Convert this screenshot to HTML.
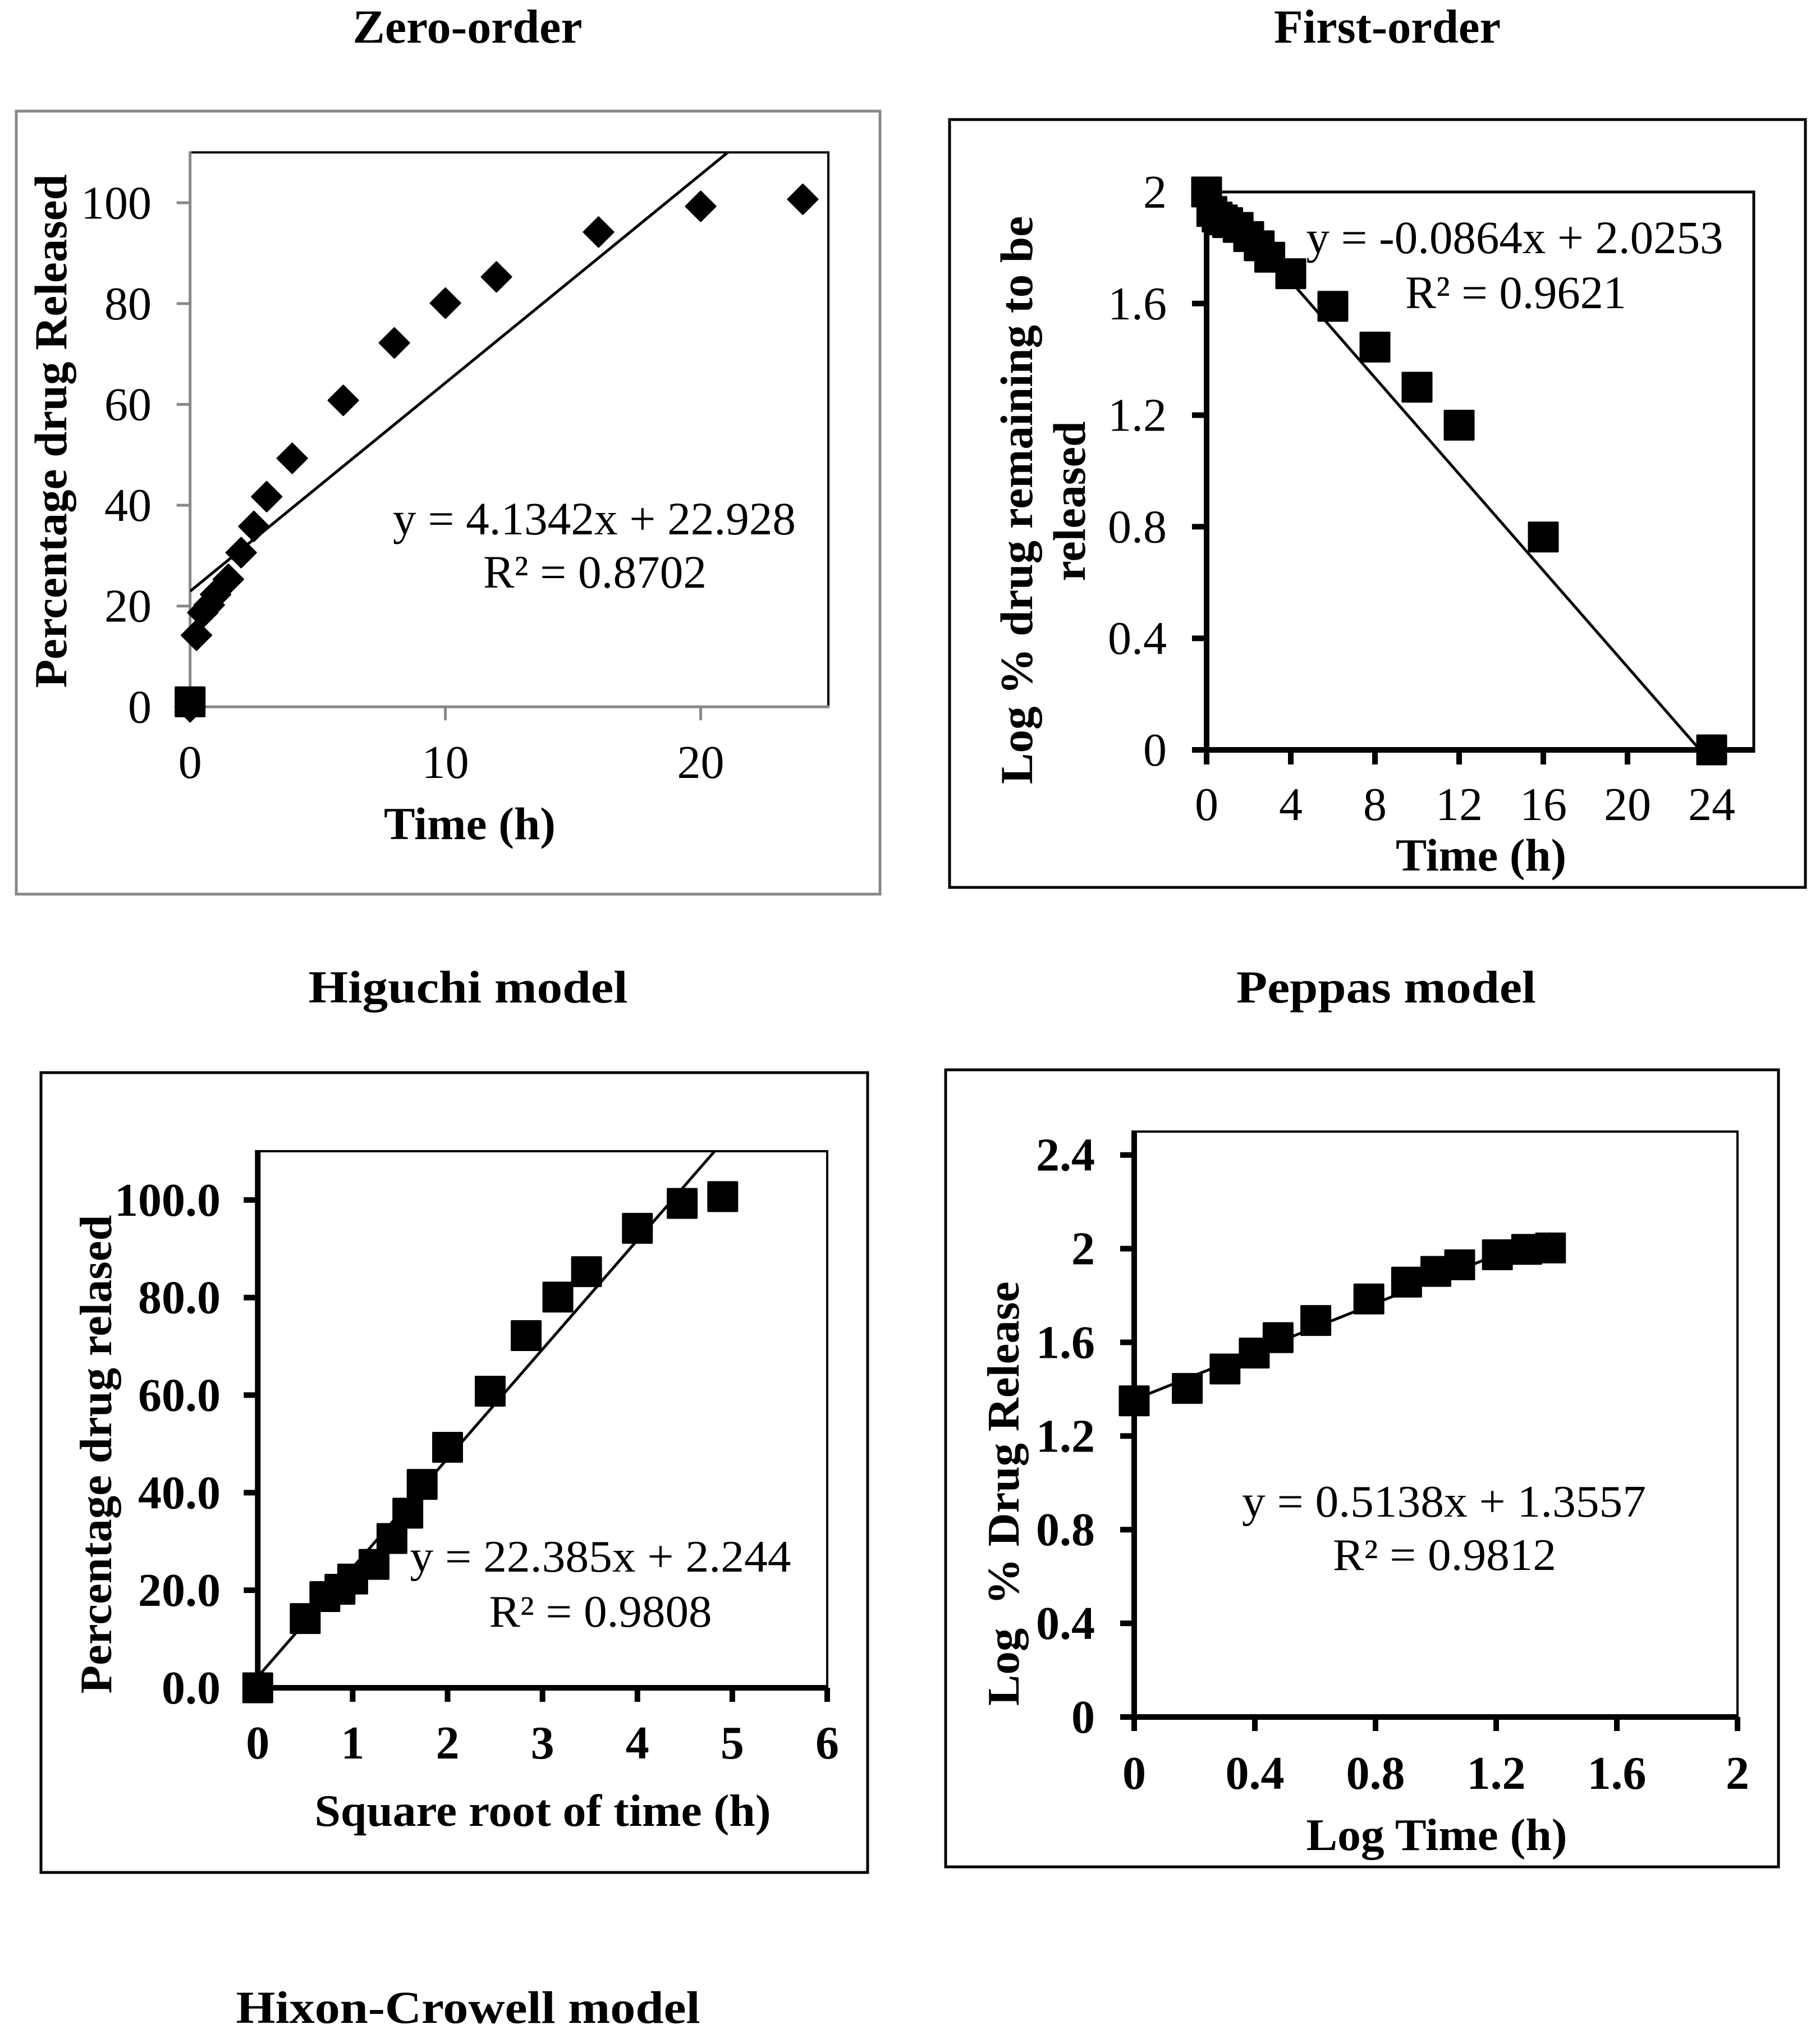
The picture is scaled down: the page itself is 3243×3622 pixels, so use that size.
<!DOCTYPE html>
<html lang="en">
<head>
<meta charset="utf-8">
<title>Drug release kinetics models</title>
<style>
html,body{margin:0;padding:0;background:#fff;}
svg{display:block;}
text{font-family:"Liberation Serif",serif;fill:#000;}
.b{font-weight:bold;}
</style>
</head>
<body>
<svg id="figure" xmlns="http://www.w3.org/2000/svg" width="3243" height="3622" viewBox="0 0 3243 3622">
<rect x="0" y="0" width="3243" height="3622" fill="#fff"/>

<text class="b" x="833" y="76" font-size="85" text-anchor="middle" textLength="409" lengthAdjust="spacingAndGlyphs">Zero-order</text>
<text class="b" x="2472" y="76" font-size="85" text-anchor="middle" textLength="404" lengthAdjust="spacingAndGlyphs">First-order</text>
<text class="b" x="834" y="1786" font-size="82" text-anchor="middle" textLength="569" lengthAdjust="spacingAndGlyphs">Higuchi model</text>
<text class="b" x="2470" y="1786" font-size="82" text-anchor="middle" textLength="534" lengthAdjust="spacingAndGlyphs">Peppas model</text>
<text class="b" x="834" y="3604" font-size="82" text-anchor="middle" textLength="827" lengthAdjust="spacingAndGlyphs">Hixon-Crowell model</text>

<g id="zero">
<rect x="29" y="198" width="1539" height="1395" fill="#fff" stroke="#888" stroke-width="5"/>
</g>
<text class="b" transform="translate(118,768) rotate(-90)" font-size="82" text-anchor="middle" textLength="915" lengthAdjust="spacingAndGlyphs">Percentage drug Released</text>
<text class="b" x="837" y="1495" font-size="82" text-anchor="middle" textLength="306" lengthAdjust="spacingAndGlyphs">Time (h)</text>
<text x="1059" y="952" font-size="83" text-anchor="middle" textLength="718" lengthAdjust="spacingAndGlyphs">y = 4.1342x + 22.928</text>
<text x="1060" y="1047" font-size="83" text-anchor="middle" textLength="398" lengthAdjust="spacingAndGlyphs">R² = 0.8702</text>

<g id="first">
<rect x="1692" y="213" width="1525" height="1368" fill="#fff" stroke="#000" stroke-width="5"/>
</g>
<text class="b" transform="translate(1839,891) rotate(-90)" font-size="82" text-anchor="middle" textLength="1012" lengthAdjust="spacingAndGlyphs">Log % drug remaining to be</text>
<text class="b" transform="translate(1933,893) rotate(-90)" font-size="82" text-anchor="middle" textLength="285" lengthAdjust="spacingAndGlyphs">released</text>
<text class="b" x="2639" y="1551" font-size="82" text-anchor="middle" textLength="304" lengthAdjust="spacingAndGlyphs">Time (h)</text>
<text x="2699" y="451" font-size="83" text-anchor="middle" textLength="743" lengthAdjust="spacingAndGlyphs">y = -0.0864x + 2.0253</text>
<text x="2701" y="549" font-size="83" text-anchor="middle" textLength="394" lengthAdjust="spacingAndGlyphs">R² = 0.9621</text>

<g id="higuchi">
<rect x="73" y="1911" width="1473" height="1425" fill="#fff" stroke="#000" stroke-width="5"/>
</g>
<text class="b" transform="translate(198,2591) rotate(-90)" font-size="80" text-anchor="middle" textLength="853" lengthAdjust="spacingAndGlyphs">Percentage drug relased</text>
<text class="b" x="967" y="3253" font-size="80" text-anchor="middle" textLength="813" lengthAdjust="spacingAndGlyphs">Square root of time (h)</text>
<text x="1070" y="2800" font-size="80" text-anchor="middle" textLength="679" lengthAdjust="spacingAndGlyphs">y = 22.385x + 2.244</text>
<text x="1070" y="2898" font-size="80" text-anchor="middle" textLength="397" lengthAdjust="spacingAndGlyphs">R² = 0.9808</text>

<g id="peppas">
<rect x="1685" y="1906" width="1484" height="1420" fill="#fff" stroke="#000" stroke-width="5"/>
</g>
<text class="b" transform="translate(1815,2661) rotate(-90)" font-size="80" text-anchor="middle" textLength="756" lengthAdjust="spacingAndGlyphs" xml:space="preserve">Log  % Drug Release</text>
<text class="b" x="2560" y="3296" font-size="80" text-anchor="middle" textLength="465" lengthAdjust="spacingAndGlyphs">Log Time (h)</text>
<text x="2573" y="2702" font-size="80" text-anchor="middle" textLength="720" lengthAdjust="spacingAndGlyphs">y = 0.5138x + 1.3557</text>
<text x="2574" y="2797" font-size="80" text-anchor="middle" textLength="398" lengthAdjust="spacingAndGlyphs">R² = 0.9812</text>
</svg>

<script>
var SVG_NS = 'http://www.w3.org/2000/svg';

// Zero-order data
var zeroTime = [0, 0.25, 0.5, 0.75, 1, 1.5, 2, 2.5, 3, 4, 6, 8, 10, 12, 16, 20, 24];
var zeroRelease = [0, 14.2, 18.7, 20.2, 22.3, 25.3, 30.6, 35.8, 41.7, 49.3, 60.8, 72.2, 80.1, 85.3, 94.2, 99.3, 100.7];
var zeroExtraTime = [0];
var zeroExtraRelease = [1];
var zeroTrend = [4.1342, 22.928];
var zeroXTicks = [0, 10, 20];
var zeroYTicks = [0, 20, 40, 60, 80, 100];

// First-order data
var firstTime = [0, 0.25, 0.5, 0.75, 1, 1.5, 2, 2.5, 3, 4, 6, 8, 10, 12, 16, 24];
var firstLogRemaining = [2, 1.93, 1.91, 1.9, 1.89, 1.873, 1.84, 1.807, 1.766, 1.707, 1.59, 1.444, 1.3, 1.164, 0.763, 0];
var firstTrend = [-0.0864, 2.0253];
var firstXTicks = [0, 4, 8, 12, 16, 20, 24];
var firstYTicks = [0, 0.4, 0.8, 1.2, 1.6, 2];

// Higuchi data
var higuchiRootTime = [0, 0.5, 0.707, 0.866, 1, 1.225, 1.414, 1.581, 1.732, 2, 2.449, 2.828, 3.162, 3.464, 4, 4.472, 4.899];
var higuchiRelease = [0, 14.2, 18.7, 20.2, 22.3, 25.3, 30.6, 35.8, 41.7, 49.3, 60.8, 72.2, 80.1, 85.3, 94.2, 99.3, 100.7];
var higuchiTrend = [22.385, 2.244];
var higuchiXTicks = [0, 1, 2, 3, 4, 5, 6];
var higuchiYTicks = [0, 20, 40, 60, 80, 100];

// Peppas data
var peppasLogTime = [0, 0.176, 0.301, 0.398, 0.477, 0.602, 0.778, 0.903, 1, 1.079, 1.204, 1.301, 1.38];
var peppasLogRelease = [1.35, 1.403, 1.486, 1.554, 1.62, 1.693, 1.785, 1.857, 1.903, 1.931, 1.974, 1.997, 2.003];
var peppasTrend = [0.5138, 1.3557];
var peppasXTicks = [0, 0.4, 0.8, 1.2, 1.6, 2];
var peppasYTicks = [0, 0.4, 0.8, 1.2, 1.6, 2, 2.4];

function linearScale(d0, d1, r0, r1) {
  return function (v) { return r0 + (v - d0) * (r1 - r0) / (d1 - d0); };
}

function svgEl(tag, parent) {
  var el = document.createElementNS(SVG_NS, tag);
  parent.appendChild(el);
  return el;
}

function drawPlotBorder(g, p) {
  var el = svgEl('rect', g);
  
  
  el.setAttribute('x', p.left);
  el.setAttribute('y', p.top);
  el.setAttribute('width', p.right - p.left);
  el.setAttribute('height', p.bottom - p.top);
  el.setAttribute('fill', '#fff');
  el.setAttribute('stroke', p.border);
  el.setAttribute('stroke-width', p.thin);
}

function drawAxisLine(g, name, x1, y1, x2, y2, p) {
  var el = svgEl('line', g);
  
  
  el.setAttribute('x1', x1);
  el.setAttribute('y1', y1);
  el.setAttribute('x2', x2);
  el.setAttribute('y2', y2);
  el.setAttribute('stroke', p.color);
  el.setAttribute('stroke-width', p.thick);
}

function drawXTick(g, v, sx, p) {
  var tick = svgEl('line', g);
  
  
  tick.setAttribute('x1', sx(v));
  tick.setAttribute('x2', sx(v));
  tick.setAttribute('y1', p.bottom);
  tick.setAttribute('y2', p.bottom + p.tickLen);
  tick.setAttribute('stroke', p.color);
  tick.setAttribute('stroke-width', p.thick);
  var label = svgEl('text', g);
  
  
  label.setAttribute('x', sx(v));
  label.setAttribute('y', p.xLabelY);
  label.setAttribute('text-anchor', 'middle');
  label.setAttribute('font-size', p.fontSize);
  label.setAttribute('font-weight', p.fontWeight);
  label.textContent = String(v);
}

function drawYTick(g, v, sy, p) {
  var tick = svgEl('line', g);
  
  
  tick.setAttribute('x1', p.left - p.tickLen);
  tick.setAttribute('x2', p.left);
  tick.setAttribute('y1', sy(v));
  tick.setAttribute('y2', sy(v));
  tick.setAttribute('stroke', p.color);
  tick.setAttribute('stroke-width', p.thick);
  var label = svgEl('text', g);
  
  
  label.setAttribute('x', p.yLabelX);
  label.setAttribute('y', sy(v) + 28);
  label.setAttribute('text-anchor', 'end');
  label.setAttribute('font-size', p.fontSize);
  label.setAttribute('font-weight', p.fontWeight);
  label.textContent = p.yDecimals ? v.toFixed(p.yDecimals) : String(v);
}

function drawTrend(g, trend, x0, x1, sx, sy, clipId) {
  var el = svgEl('line', g);
  
  
  el.setAttribute('x1', sx(x0));
  el.setAttribute('y1', sy(trend[0] * x0 + trend[1]));
  el.setAttribute('x2', sx(x1));
  el.setAttribute('y2', sy(trend[0] * x1 + trend[1]));
  el.setAttribute('stroke', '#000');
  el.setAttribute('stroke-width', 5);
  el.setAttribute('clip-path', 'url(#' + clipId + ')');
}

function drawSquares(g, xs, ys, sx, sy) {
  for (var i = 0; i < xs.length; i++) {
    var el = svgEl('rect', g);
    
    
    el.setAttribute('x', sx(xs[i]) - 27.5);
    el.setAttribute('y', sy(ys[i]) - 27.5);
    el.setAttribute('width', 55);
    el.setAttribute('height', 55);
    el.setAttribute('rx', 2);
    el.setAttribute('fill', '#000');
  }
}

function drawDiamonds(g, xs, ys, sx, sy) {
  for (var i = 0; i < xs.length; i++) {
    var cx = sx(xs[i]);
    var cy = sy(ys[i]);
    var r = 26.5;
    var el = svgEl('polygon', g);
    
    
    el.setAttribute('points', cx + ',' + (cy - r) + ' ' + (cx + r) + ',' + cy + ' ' + cx + ',' + (cy + r) + ' ' + (cx - r) + ',' + cy);
    el.setAttribute('fill', '#000');
    el.setAttribute('stroke', '#000');
    el.setAttribute('stroke-width', 3);
    el.setAttribute('stroke-linejoin', 'round');
  }
}

function makeClip(svg, id, p) {
  var cp = svgEl('clipPath', svg);
  cp.setAttribute('id', id);
  var r = svgEl('rect', cp);
  r.setAttribute('x', p.left);
  r.setAttribute('y', p.top);
  r.setAttribute('width', p.right - p.left);
  r.setAttribute('height', p.bottom - p.top + 6);
}

function drawChart(id, p, xTicks, yTicks, trend, trendEnd) {
  var g = document.getElementById(id);
  var sx = linearScale(0, p.xMax, p.left, p.right);
  var sy = linearScale(0, p.yMax, p.bottom, p.top);
  var half = p.thick / 2;
  makeClip(document.getElementById('figure'), id + '-clip', p);
  drawPlotBorder(g, p);
  drawAxisLine(g, 'y-axis', p.left, p.top - p.thin / 2, p.left, p.bottom + half, p);
  drawAxisLine(g, 'x-axis', p.left - half, p.bottom, p.right + p.thin / 2, p.bottom, p);
  xTicks.forEach(function (v) { drawXTick(g, v, sx, p); });
  yTicks.forEach(function (v) { drawYTick(g, v, sy, p); });
  drawTrend(g, trend, 0, trendEnd, sx, sy, id + '-clip');
  return { g: g, sx: sx, sy: sy };
}

var zeroChart = drawChart('zero',
  { left: 338.7, right: 1476, top: 271.5, bottom: 1259.3, xMax: 25, yMax: 110, color: '#888', border: '#000', thin: 4, thick: 5, tickLen: 24,
    xLabelY: 1386, yLabelX: 270, fontSize: 84, fontWeight: 'normal', yDecimals: 0 },
  zeroXTicks, zeroYTicks, zeroTrend, 21.5);
drawDiamonds(zeroChart.g, zeroTime, zeroRelease, zeroChart.sx, zeroChart.sy);
drawSquares(zeroChart.g, zeroExtraTime, zeroExtraRelease, zeroChart.sx, zeroChart.sy);

var firstChart = drawChart('first',
  { left: 2150, right: 3125, top: 342, bottom: 1336, xMax: 26, yMax: 2, color: '#000', border: '#000', thin: 5, thick: 10, tickLen: 26,
    xLabelY: 1461, yLabelX: 2079, fontSize: 84, fontWeight: 'normal', yDecimals: 0 },
  firstXTicks, firstYTicks, firstTrend, 23.44);
drawSquares(firstChart.g, firstTime, firstLogRemaining, firstChart.sx, firstChart.sy);

var higuchiChart = drawChart('higuchi',
  { left: 459.3, right: 1474, top: 2051, bottom: 3007, xMax: 6, yMax: 110, color: '#000', border: '#000', thin: 4, thick: 10, tickLen: 25,
    xLabelY: 3133, yLabelX: 393, fontSize: 84, fontWeight: 'bold', yDecimals: 1 },
  higuchiXTicks, higuchiYTicks, higuchiTrend, 4.82);
drawSquares(higuchiChart.g, higuchiRootTime, higuchiRelease, higuchiChart.sx, higuchiChart.sy);

var peppasChart = drawChart('peppas',
  { left: 2021, right: 3096, top: 2016, bottom: 3059, xMax: 2, yMax: 2.5, color: '#000', border: '#000', thin: 4, thick: 10, tickLen: 25,
    xLabelY: 3187, yLabelX: 1951, fontSize: 84, fontWeight: 'bold', yDecimals: 0 },
  peppasXTicks, peppasYTicks, peppasTrend, 1.38);
drawSquares(peppasChart.g, peppasLogTime, peppasLogRelease, peppasChart.sx, peppasChart.sy);
</script>
</body>
</html>
